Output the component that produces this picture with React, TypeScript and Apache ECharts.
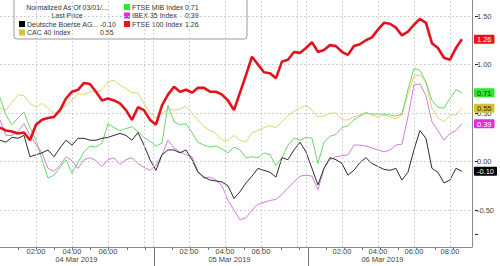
import React, { useEffect, useRef } from 'react';
import * as echarts from 'echarts';

// ---- data ----
const dayLabels = ['04 Mar 2019', '05 Mar 2019', '06 Mar 2019'];
const sessionHours = 8.5; // hours shown per day (00:00 - 08:30)
const stepMinutes = 20;   // sampling step of the series
const tickHoursInDay = [1, 2, 3, 4, 5, 6, 7, 8];
const gridHoursInDay = [2, 4, 6, 8];
const labelHoursByDay = [[2, 4, 6], [2, 4, 6], [2, 4, 6, 8]];
const yLabelValues = [-0.5, 0, 0.5, 1.0, 1.5];
const yTickValues = [-0.75, -0.5, 0, 0.5, 1.0, 1.5];

const legendTitle = 'Normalized As Of 03/01/...';
const legendSubtitle = 'Last Price';
const seriesNames = ['Deutsche Boerse AG...', 'CAC 40 Index', 'FTSE MIB Index', 'IBEX 35 Index', 'FTSE 100 Index'];

const deutscheBoerse = [0.22, 0.20, 0.25, 0.24, 0.27, 0.05, 0.07, 0.09, 0.12, 0.05, 0.14, 0.22, 0.17, 0.24, 0.24, 0.22, 0.22, 0.24, 0.25, 0.27, 0.29, 0.27, 0.22, 0.30, 0.17, 0.02, -0.09, 0.07, 0.12, 0.12, 0.09, 0.12, 0.02, -0.11, -0.16, -0.19, -0.20, -0.21, -0.25, -0.38, -0.31, -0.22, -0.15, -0.07, -0.09, -0.11, -0.16, 0.04, 0.02, 0.12, 0.20, 0.10, -0.07, -0.24, -0.07, 0.04, 0.02, -0.02, -0.14, -0.09, -0.01, 0.04, -0.02, -0.05, -0.08, -0.09, -0.07, -0.19, -0.11, 0.12, 0.32, 0.24, -0.07, -0.11, -0.22, -0.19, -0.07, -0.10];
const cac40 = [0.55, 0.53, 0.61, 0.69, 0.68, 0.60, 0.56, 0.60, 0.55, 0.50, 0.53, 0.58, 0.63, 0.70, 0.69, 0.72, 0.72, 0.74, 0.82, 0.84, 0.79, 0.75, 0.71, 0.71, 0.60, 0.50, 0.45, 0.50, 0.54, 0.53, 0.54, 0.57, 0.50, 0.43, 0.36, 0.32, 0.29, 0.22, 0.22, 0.27, 0.22, 0.20, 0.30, 0.32, 0.35, 0.37, 0.35, 0.41, 0.47, 0.52, 0.55, 0.58, 0.53, 0.46, 0.47, 0.50, 0.50, 0.43, 0.43, 0.46, 0.48, 0.51, 0.48, 0.46, 0.48, 0.46, 0.44, 0.48, 0.69, 0.88, 0.89, 0.81, 0.55, 0.45, 0.41, 0.48, 0.48, 0.55];
const ftseMib = [0.66, 0.48, 0.38, 0.45, 0.51, 0.35, 0.22, 0.02, -0.17, -0.14, -0.06, 0.02, -0.12, -0.01, 0.10, 0.16, 0.15, 0.19, 0.39, 0.35, 0.32, 0.34, 0.36, 0.31, 0.25, 0.21, 0.16, 0.19, 0.58, 0.41, 0.38, 0.39, 0.30, 0.20, 0.17, 0.15, 0.16, 0.13, 0.09, 0.15, 0.12, 0.04, 0.05, 0.04, 0.09, 0.07, -0.04, 0.04, 0.17, 0.24, 0.22, 0.25, 0.24, -0.02, 0.20, 0.26, 0.28, 0.35, 0.37, 0.43, 0.47, 0.50, 0.49, 0.49, 0.49, 0.48, 0.47, 0.49, 0.74, 0.96, 0.94, 0.82, 0.63, 0.56, 0.55, 0.65, 0.74, 0.71];
const ibex35 = [0.43, 0.27, 0.27, 0.31, 0.39, 0.27, 0.18, 0.09, -0.07, -0.10, -0.04, 0.05, 0.01, -0.07, 0.02, 0.04, 0.01, -0.05, 0.02, 0.04, -0.03, 0.02, 0.04, -0.02, -0.06, -0.09, -0.04, 0.07, 0.22, 0.14, 0.10, 0.07, 0.05, -0.10, -0.17, -0.16, -0.19, -0.25, -0.40, -0.50, -0.60, -0.58, -0.50, -0.44, -0.42, -0.40, -0.39, -0.34, -0.27, -0.21, -0.15, -0.14, -0.15, -0.29, -0.07, 0.02, 0.05, 0.06, 0.07, 0.17, 0.17, 0.16, 0.14, 0.12, 0.10, 0.12, 0.17, 0.18, 0.46, 0.79, 0.80, 0.68, 0.41, 0.32, 0.22, 0.29, 0.32, 0.39];
const ftse100 = [0.35, 0.32, 0.31, 0.29, 0.30, 0.22, 0.38, 0.43, 0.45, 0.46, 0.53, 0.65, 0.72, 0.74, 0.81, 0.80, 0.72, 0.63, 0.65, 0.63, 0.60, 0.53, 0.43, 0.56, 0.53, 0.43, 0.38, 0.58, 0.69, 0.77, 0.72, 0.74, 0.71, 0.76, 0.76, 0.72, 0.72, 0.69, 0.63, 0.53, 0.71, 0.89, 1.08, 1.00, 0.92, 0.91, 0.86, 1.03, 1.05, 1.13, 1.12, 1.17, 1.23, 1.13, 1.15, 1.20, 1.19, 1.13, 1.10, 1.19, 1.21, 1.25, 1.28, 1.36, 1.43, 1.42, 1.38, 1.30, 1.34, 1.41, 1.47, 1.43, 1.22, 1.17, 1.07, 1.05, 1.17, 1.26];

const seriesValues = [deutscheBoerse, cac40, ftseMib, ibex35, ftse100];
const lineColors = ['#2b2b2b', '#e2d272', '#6ad66a', '#d47cda', '#e3121b'];
const tagColors = ['#000000', '#d8c232', '#2fe62f', '#e52ae5', '#ee1313'];
const tagTextColors = ['#ffffff', '#3a3000', '#0b3d0b', '#ffffff', '#ffffff'];
const lineWidths = [1, 1, 1, 1, 2.6];
const drawOrder = [1, 2, 3, 0, 4];

const FONT = '"Liberation Sans", Arial, sans-serif';
const GRID_COLOR = '#c2c2c2';

const App: React.FC = () => {
  const ref = useRef<HTMLDivElement>(null);

  useEffect(() => {
    document.body.style.margin = '0';
    if (!ref.current) return;
    const chart = echarts.init(ref.current, undefined, { renderer: 'svg' });

    const xMax = 26.22;
    const yMin = -0.88;
    const yMax = 1.665;
    const dayStart = (d: number) => d * sessionHours;
    const hourTicks: number[] = [];
    const gridTicks: number[] = [];
    const labelTicks: number[] = [];
    dayLabels.forEach((_, d) => {
      tickHoursInDay.forEach((h) => hourTicks.push(dayStart(d) + h));
      gridHoursInDay.forEach((h) => gridTicks.push(dayStart(d) + h));
      labelHoursByDay[d].forEach((h) => labelTicks.push(dayStart(d) + h));
    });
    const dayBounds = [dayStart(1), dayStart(2)];
    gridTicks.push(...dayBounds);
    const dayCenters = dayLabels.map((_, d) => dayStart(d) + sessionHours / 2);

    const lastValues = seriesValues.map((s) => s[s.length - 1]);

    const fmtHour = (v: number) => {
      const d = Math.floor(v / sessionHours + 1e-9);
      const h = Math.round(v - d * sessionHours);
      return (h < 10 ? '0' : '') + h + ':00';
    };

    const rich: any = {};
    tagColors.forEach((c, i) => {
      rich['t' + i] = {
        backgroundColor: c,
        color: tagTextColors[i],
        fontSize: 7.5,
        fontFamily: FONT,
        padding: [1, 3, 0, 3],
        lineHeight: 9,
        borderRadius: 1,
      };
    });

    const hiddenAxis = (extra: any) => ({
      type: 'value', show: false,
      axisLine: { show: false, onZero: false }, axisTick: { show: false }, axisLabel: { show: false }, splitLine: { show: false },
      ...extra,
    });

    const markLineSeries = (xIdx: number, yIdx: number, lines: any[], color: string, type: any, z = 1) => ({
      type: 'line',
      xAxisIndex: xIdx,
      yAxisIndex: yIdx,
      data: [],
      showSymbol: false,
      silent: true,
      z,
      lineStyle: { opacity: 0 },
      markLine: {
        silent: true,
        symbol: ['none', 'none'],
        label: { show: false },
        animation: false,
        lineStyle: { color, type, width: 1 },
        emphasis: { disabled: true },
        data: lines,
      },
    });
    const vSeg = (x: number) => [{ coord: [x, 0] }, { coord: [x, 1] }];
    const hSeg = (y: number) => [{ coord: [0, y] }, { coord: [1, y] }];

    const option: any = {
      animation: false,
      backgroundColor: '#ffffff',
      grid: [
        { left: 0, right: 25, top: 0, bottom: 19, containLabel: false },      // plot
        { left: 0, right: 25, top: 247, height: 3, containLabel: false },     // hour ticks
        { left: 0, right: 25, top: 247, height: 19, containLabel: false },    // day separators
        { left: 475, width: 3, top: 0, bottom: 19, containLabel: false },     // y ticks
      ],
      xAxis: [
        {
          type: 'value', min: 0, max: xMax, position: 'bottom', gridIndex: 0,
          axisLine: { show: true, onZero: false, lineStyle: { color: '#8a8a8a', width: 1 } },
          axisTick: { show: false },
          axisLabel: {
            show: true, customValues: labelTicks, formatter: fmtHour,
            fontSize: 7.5, lineHeight: 7.5, fontFamily: FONT, color: '#444', margin: 1,
          },
          splitLine: { show: false },
        },
        {
          type: 'value', min: 0, max: xMax, position: 'bottom', gridIndex: 0,
          axisLine: { show: false, onZero: false },
          axisTick: { show: false },
          axisLabel: {
            show: true, customValues: dayCenters, formatter: (v: number) => dayLabels[Math.floor(v / sessionHours)],
            fontSize: 7.5, lineHeight: 7.5, fontFamily: FONT, color: '#444', margin: 8.5,
          },
          splitLine: { show: false },
        },
        hiddenAxis({ gridIndex: 1, min: 0, max: xMax }),
        hiddenAxis({ gridIndex: 2, min: 0, max: xMax }),
        hiddenAxis({ gridIndex: 3, min: 0, max: 1 }),
      ],
      yAxis: [
        {
          type: 'value', min: yMin, max: yMax, position: 'right', gridIndex: 0,
          axisLine: { show: true, onZero: false, lineStyle: { color: '#8a8a8a', width: 1 } },
          axisTick: { show: false },
          axisLabel: {
            show: true, customValues: yLabelValues, formatter: (v: number) => v.toFixed(2),
            fontSize: 7.5, fontFamily: FONT, color: '#444', margin: 5,
          },
          splitLine: { show: false },
        },
        {
          type: 'value', min: yMin, max: yMax, position: 'right', gridIndex: 0,
          axisLine: { show: false, onZero: false },
          axisTick: { show: false },
          axisLabel: {
            show: true, customValues: lastValues,
            formatter: (v: number) => {
              const i = lastValues.indexOf(v);
              return '{t' + i + '|' + v.toFixed(2) + '}';
            },
            rich, margin: 2, fontSize: 7.5,
          },
          splitLine: { show: false },
        },
        hiddenAxis({ gridIndex: 1, min: 0, max: 1 }),
        hiddenAxis({ gridIndex: 2, min: 0, max: 1 }),
        hiddenAxis({ gridIndex: 3, min: yMin, max: yMax }),
      ],
      series: [
        // dotted grid lines in the plot
        markLineSeries(0, 0, [
          ...gridTicks.map((v) => ({ xAxis: v })),
          ...yLabelValues.map((v) => ({ yAxis: v })),
        ], GRID_COLOR, [1.5, 2.5], 1),
        // hour ticks under the x axis
        markLineSeries(2, 2, hourTicks.map(vSeg), '#777', 'solid', 2),
        // long day separators
        markLineSeries(3, 3, dayBounds.map(vSeg), '#777', 'solid', 2),
        // y axis ticks
        markLineSeries(4, 4, yTickValues.map(hSeg), '#222', 'solid', 2),
        ...drawOrder.map((i) => ({
          name: seriesNames[i],
          type: 'line',
          xAxisIndex: 0,
          yAxisIndex: 0,
          showSymbol: false,
          symbol: 'none',
          data: seriesValues[i].map((v, k) => [(k * stepMinutes) / 60, v]),
          lineStyle: { color: lineColors[i], width: lineWidths[i] },
          itemStyle: { color: lineColors[i] },
          z: i === 4 ? 5 : 3,
        })),
      ],
      graphic: buildLegend(lastValues),
    };

    chart.setOption(option);
    return () => chart.dispose();
  }, []);

  return <div ref={ref} style={{ position: 'absolute', left: 0, top: 0, width: 500, height: 266 }} />;
};

function buildLegend(lastValues: number[]) {
  const textStyle = (text: string, x: number, y: number, align: string = 'left') => ({
    type: 'text',
    style: { text, x, y, fill: '#333', font: '7px ' + FONT, align, verticalAlign: 'middle' },
  });
  const children: any[] = [
    {
      type: 'rect',
      shape: { x: 14, y: -4, width: 233, height: 43, r: [0, 0, 3, 3] },
      style: { fill: 'rgba(255,255,255,0.96)', stroke: '#9a9a9a', lineWidth: 1 },
    },
    textStyle(legendTitle, 67, 7, 'center'),
    textStyle(legendSubtitle, 67, 15.5, 'center'),
  ];
  // column / row slots for each series in legend
  const slots = [
    { col: 0, row: 2 },
    { col: 0, row: 3 },
    { col: 1, row: 0 },
    { col: 1, row: 1 },
    { col: 1, row: 2 },
  ];
  const colX = [19, 124];
  const valX = [100, 185];
  const rowY = [7, 15.5, 24, 32.5];
  slots.forEach((s, i) => {
    const x = colX[s.col];
    const y = rowY[s.row];
    children.push({
      type: 'rect',
      shape: { x, y: y - 3, width: 6, height: 6 },
      style: { fill: tagColors[i] },
    });
    children.push(textStyle(seriesNames[i], x + 8, y));
    children.push(textStyle(lastValues[i].toFixed(2), valX[s.col], y));
  });
  return [{ type: 'group', z: 100, children }];
}

export default App;
